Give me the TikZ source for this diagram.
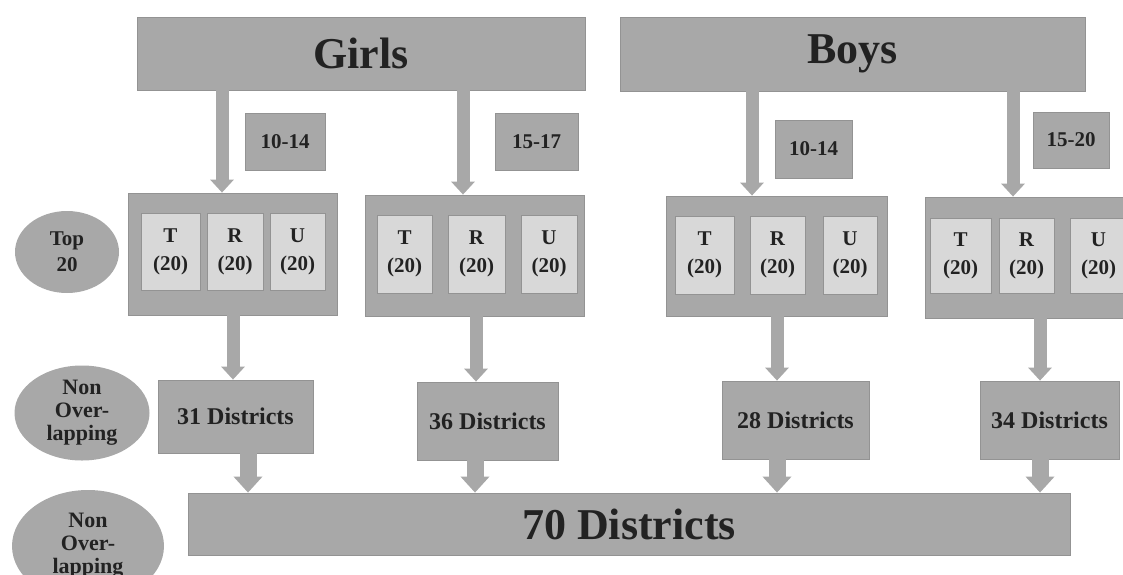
\documentclass[tikz,border=0pt]{standalone}
\usepackage{fontspec}
\setmainfont{Liberation Serif}
\usetikzlibrary{arrows.meta,shapes.geometric}
\definecolor{boxgray}{HTML}{A8A8A8}
\definecolor{innergray}{HTML}{D8D8D8}
\definecolor{edgegray}{HTML}{939393}
\definecolor{txt}{HTML}{222222}
\newcommand\rbox[7]{\node[#6, minimum width={#4-#2}, minimum height={#5-#3}] (#1) at ({(#2+#4)/2},{(#3+#5)/2}) {#7};}
\begin{document}
\begin{tikzpicture}[x=1pt,y=-1pt,
  box/.style={rectangle, fill=boxgray, draw=edgegray, line width=0.8pt, inner sep=0pt, text=txt, font=\bfseries, align=center},
  inbox/.style={box, fill=innergray},
  bigtxt/.style={box, font=\bfseries\fontsize{44}{48}\selectfont},
  lbltxt/.style={box, font=\bfseries\fontsize{21}{24}\selectfont},
  disttxt/.style={box, font=\bfseries\fontsize{24}{28}\selectfont},
  trutxt/.style={inbox, font=\bfseries\fontsize{21}{28}\selectfont},
  oval/.style={ellipse, fill=boxgray, draw=none, inner sep=0pt, text=txt, align=center},
  arr/.style={draw=boxgray, line width=13pt, -{Triangle[width=23pt,length=13pt]}},
  arrb/.style={draw=boxgray, line width=17pt, -{Triangle[width=28pt,length=16pt]}}
]
\useasboundingbox (0,0) rectangle (1123,574);

% top boxes
\rbox{girls}{137}{17}{585}{90}{bigtxt}{Girls}
\rbox{boys}{620}{17}{1085}{91}{bigtxt}{Boys}

% age labels
\rbox{l1}{245}{113}{325}{170}{lbltxt}{10-14}
\rbox{l2}{495}{113}{578}{170}{lbltxt}{15-17}
\rbox{l3}{775}{120}{852}{178}{lbltxt}{10-14}
\rbox{l4}{1033}{112}{1109}{168}{lbltxt}{15-20}

% group boxes
\rbox{g1}{128}{193}{337}{315}{box}{}
\rbox{g2}{365}{195}{584}{316}{box}{}
\rbox{g3}{666}{196}{887}{316}{box}{}
\rbox{g4}{925}{197}{1145}{318}{box}{}

% inner boxes
\rbox{g1t}{141}{213}{200}{290}{trutxt}{T\\(20)}
\rbox{g1r}{207}{213}{263}{290}{trutxt}{R\\(20)}
\rbox{g1u}{270}{213}{325}{290}{trutxt}{U\\(20)}
\rbox{g2t}{377}{215}{432}{293}{trutxt}{T\\(20)}
\rbox{g2r}{448}{215}{505}{293}{trutxt}{R\\(20)}
\rbox{g2u}{521}{215}{577}{293}{trutxt}{U\\(20)}
\rbox{g3t}{675}{216}{734}{294}{trutxt}{T\\(20)}
\rbox{g3r}{750}{216}{805}{294}{trutxt}{R\\(20)}
\rbox{g3u}{823}{216}{877}{294}{trutxt}{U\\(20)}
\rbox{g4t}{930}{218}{991}{293}{trutxt}{T\\(20)}
\rbox{g4r}{999}{218}{1054}{293}{trutxt}{R\\(20)}
\rbox{g4u}{1070}{218}{1127}{293}{trutxt}{U\\(20)}

% district boxes
\rbox{d31}{158}{380}{313}{453}{disttxt}{31 Districts}
\rbox{d36}{417}{382}{558}{460}{disttxt}{36 Districts}
\rbox{d28}{722}{381}{869}{459}{disttxt}{28 Districts}
\rbox{d34}{980}{381}{1119}{459}{disttxt}{34 Districts}
\rbox{d70}{188}{493}{1070}{555}{bigtxt}{70 Districts}

% ovals
\node[oval, minimum width=104pt, minimum height=82pt, font=\bfseries\fontsize{21}{26}\selectfont] (top) at (67,252) {Top\\20};
\node[oval, minimum width=135pt, minimum height=95pt, font=\bfseries\fontsize{22}{23}\selectfont] (non1) at (82,413) {Non\\Over-\\lapping};
\node[oval, minimum width=152pt, minimum height=112pt, font=\bfseries\fontsize{22}{23}\selectfont] (non2) at (88,546) {Non\\Over-\\lapping};

% arrow columns
\coordinate (a1) at (222,0);
\coordinate (a2) at (463,0);
\coordinate (a3) at (752,0);
\coordinate (a4) at (1013,0);
\coordinate (b1) at (233,0);
\coordinate (b2) at (476,0);
\coordinate (b3) at (777,0);
\coordinate (b4) at (1040,0);
\coordinate (c1) at (248,0);
\coordinate (c2) at (475,0);
\coordinate (c3) at (777,0);
\coordinate (c4) at (1040,0);

\draw[arr] (girls.south -| a1) -- (g1.north -| a1);
\draw[arr] (girls.south -| a2) -- (g2.north -| a2);
\draw[arr] (boys.south -| a3) -- (g3.north -| a3);
\draw[arr] (boys.south -| a4) -- (g4.north -| a4);

\draw[arr] (g1.south -| b1) -- (d31.north -| b1);
\draw[arr] (g2.south -| b2) -- (d36.north -| b2);
\draw[arr] (g3.south -| b3) -- (d28.north -| b3);
\draw[arr] (g4.south -| b4) -- (d34.north -| b4);

\draw[arrb] (d31.south -| c1) -- (d70.north -| c1);
\draw[arrb] (d36.south -| c2) -- (d70.north -| c2);
\draw[arrb] (d28.south -| c3) -- (d70.north -| c3);
\draw[arrb] (d34.south -| c4) -- (d70.north -| c4);
\end{tikzpicture}
\end{document}
